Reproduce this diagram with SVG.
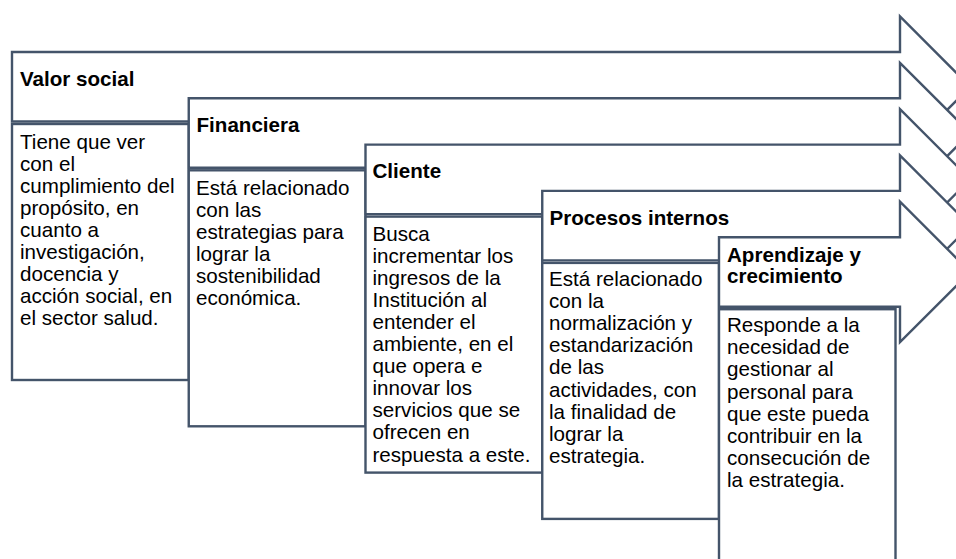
<svg xmlns="http://www.w3.org/2000/svg" width="956" height="559" viewBox="0 0 956 559">
<style>
.shape{fill:#ffffff;stroke:#44546A;stroke-width:2.4;stroke-linejoin:miter}
.hd{font-family:"Liberation Sans",Arial,sans-serif;font-size:20.6px;font-weight:bold;fill:#000}
.tx{font-family:"Liberation Sans",Arial,sans-serif;font-size:20.6px;fill:#000}
</style>
<rect x="0" y="0" width="956" height="559" fill="#ffffff"/>
<g id="connectors"/>
<g id="valor-social">
<path class="shape" d="M12,52 H900 V16.5 L970.25,86.75 L900,157 V121.5 H12 Z"/>
<rect class="shape" x="12" y="124" width="176.75" height="256"/>
<text class="hd" x="20" y="86">Valor social</text>
<text class="tx" x="20" y="148.5">
<tspan x="20" y="148.5">Tiene que ver</tspan>
<tspan x="20" y="170.5">con el</tspan>
<tspan x="20" y="192.5">cumplimiento del</tspan>
<tspan x="20" y="214.5">propósito, en</tspan>
<tspan x="20" y="236.5">cuanto a</tspan>
<tspan x="20" y="258.5">investigación,</tspan>
<tspan x="20" y="280.5">docencia y</tspan>
<tspan x="20" y="302.5">acción social, en</tspan>
<tspan x="20" y="324.5">el sector salud.</tspan>
</text>
</g>
<g id="financiera">
<path class="shape" d="M188.75,98.3 H900 V62.8 L970.25,133.05 L900,203.3 V167.8 H188.75 Z"/>
<rect class="shape" x="188.75" y="170.3" width="176.75" height="256"/>
<text class="hd" x="196.5" y="131.8">Financiera</text>
<text class="tx">
<tspan x="196" y="194.5">Está relacionado</tspan>
<tspan x="196" y="216.5">con las</tspan>
<tspan x="196" y="238.5">estrategias para</tspan>
<tspan x="196" y="260.5">lograr la</tspan>
<tspan x="196" y="282.5">sostenibilidad</tspan>
<tspan x="196" y="304.5">económica.</tspan>
</text>
</g>
<g id="cliente">
<path class="shape" d="M365.5,144.6 H900 V109.1 L970.25,179.35 L900,249.6 V214.1 H365.5 Z"/>
<rect class="shape" x="365.5" y="216.6" width="176.75" height="256"/>
<text class="hd" x="372.5" y="178">Cliente</text>
<text class="tx">
<tspan x="372.5" y="240.5">Busca</tspan>
<tspan x="372.5" y="262.6">incrementar los</tspan>
<tspan x="372.5" y="284.7">ingresos de la</tspan>
<tspan x="372.5" y="306.8">Institución al</tspan>
<tspan x="372.5" y="328.9">entender el</tspan>
<tspan x="372.5" y="351">ambiente, en el</tspan>
<tspan x="372.5" y="373.1">que opera e</tspan>
<tspan x="372.5" y="395.2">innovar los</tspan>
<tspan x="372.5" y="417.3">servicios que se</tspan>
<tspan x="372.5" y="439.4">ofrecen en</tspan>
<tspan x="372.5" y="461.5">respuesta a este.</tspan>
</text>
</g>
<g id="procesos-internos">
<path class="shape" d="M542.25,190.9 H900 V155.4 L970.25,225.65 L900,295.9 V260.4 H542.25 Z"/>
<rect class="shape" x="542.25" y="262.9" width="176.75" height="256"/>
<text class="hd" x="549.5" y="225">Procesos internos</text>
<text class="tx">
<tspan x="549" y="285.5">Está relacionado</tspan>
<tspan x="549" y="307.7">con la</tspan>
<tspan x="549" y="329.9">normalización y</tspan>
<tspan x="549" y="352.1">estandarización</tspan>
<tspan x="549" y="374.3">de las</tspan>
<tspan x="549" y="396.5">actividades, con</tspan>
<tspan x="549" y="418.7">la finalidad de</tspan>
<tspan x="549" y="440.9">lograr la</tspan>
<tspan x="549" y="463.1">estrategia.</tspan>
</text>
</g>
<g id="aprendizaje-crecimiento">
<path class="shape" d="M719,237.2 H900 V201.7 L970.25,271.95 L900,342.2 V306.7 H719 Z"/>
<rect class="shape" x="719" y="309.2" width="176.5" height="256"/>
<text class="hd">
<tspan x="727" y="261.5">Aprendizaje y</tspan>
<tspan x="727" y="282.5">crecimiento</tspan>
</text>
<text class="tx">
<tspan x="727" y="332">Responde a la</tspan>
<tspan x="727" y="354.2">necesidad de</tspan>
<tspan x="727" y="376.4">gestionar al</tspan>
<tspan x="727" y="398.6">personal para</tspan>
<tspan x="727" y="420.8">que este pueda</tspan>
<tspan x="727" y="443">contribuir en la</tspan>
<tspan x="727" y="465.2">consecución de</tspan>
<tspan x="727" y="487.4">la estrategia.</tspan>
</text>
</g>
</svg>
